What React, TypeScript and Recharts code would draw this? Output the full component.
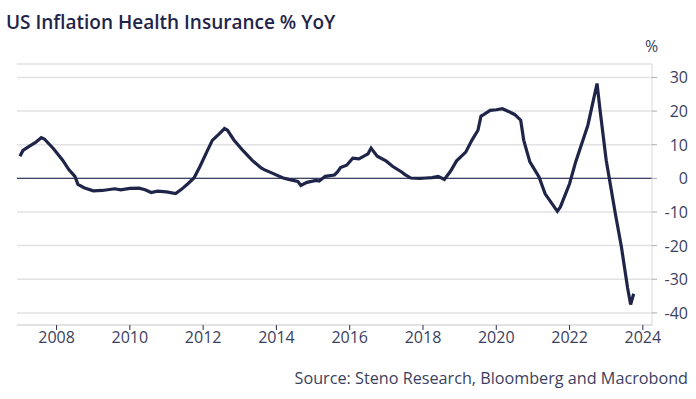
import React from "react";
import {
  LineChart,
  Line,
  XAxis,
  YAxis,
  CartesianGrid,
  ReferenceLine,
} from "recharts";

// Monthly readings, health insurance CPI % YoY
const months = [
  "2007-01", "2007-02", "2007-04", "2007-06", "2007-08", "2007-09", "2007-12",
  "2008-03", "2008-05", "2008-07", "2008-08", "2008-10",
  "2009-01", "2009-04", "2009-08", "2009-10",
  "2010-01", "2010-04", "2010-06", "2010-08", "2010-10",
  "2011-01", "2011-04", "2011-06", "2011-08", "2011-10", "2011-12",
  "2012-02", "2012-04", "2012-06", "2012-08", "2012-09", "2012-11",
  "2013-02", "2013-05", "2013-08", "2013-09", "2013-12",
  "2014-03", "2014-05", "2014-08", "2014-09", "2014-11",
  "2015-02", "2015-03", "2015-05", "2015-08", "2015-09", "2015-10", "2015-12",
  "2016-02", "2016-04", "2016-07", "2016-08", "2016-10",
  "2017-01", "2017-03", "2017-06", "2017-07", "2017-09", "2017-12",
  "2018-02", "2018-04", "2018-06", "2018-08", "2018-10", "2018-12",
  "2019-03", "2019-05", "2019-07", "2019-08", "2019-09", "2019-11",
  "2020-01", "2020-03", "2020-05", "2020-07", "2020-09", "2020-10", "2020-12",
  "2021-03", "2021-05", "2021-09", "2021-10",
  "2022-01", "2022-03", "2022-07", "2022-10", "2022-11",
  "2023-01", "2023-04", "2023-06", "2023-07", "2023-08", "2023-09", "2023-10",
];

const values = [
  6.6, 8.3, 9.5, 10.6, 12.1, 11.7, 8.8,
  5.4, 2.6, 0.6, -1.8, -2.8,
  -3.7, -3.6, -3.1, -3.4,
  -3.0, -2.9, -3.4, -4.2, -3.8,
  -4.0, -4.5, -3.2, -1.6, 0.1, 3.6,
  7.5, 11.3, 13.0, 14.8, 14.3, 11.5,
  8.3, 5.4, 3.1, 2.6, 1.4,
  0.2, -0.3, -0.9, -2.1, -1.2,
  -0.6, -0.8, 0.6, 1.0, 1.9, 3.2, 3.9,
  6.0, 5.8, 7.3, 9.0, 6.6,
  5.1, 3.6, 1.9, 1.2, 0.1, 0.0,
  0.1, 0.2, 0.6, -0.3, 2.1, 5.2,
  7.8, 11.3, 14.3, 18.5, 19.0, 20.2,
  20.4, 20.7, 19.9, 19.0, 17.3, 11.3, 4.9,
  0.4, -4.6, -9.8, -8.5,
  -1.6, 4.9, 15.8, 28.2, 20.2,
  5.4, -10.5, -20.5, -26.5, -32.5, -37.5, -34.3,
];

const yearTicks = [2008, 2010, 2012, 2014, 2016, 2018, 2020, 2022, 2024];
const valueTicks = [-40, -30, -20, -10, 0, 10, 20, 30];

const data = months.map((m, i) => {
  const [y, mo] = m.split("-").map(Number);
  return { t: y + (mo - 1) / 12, v: values[i] };
});

const NAVY = "#1f2548";
const TEXT = "#3b3f5e";
const FONT = "'Open Sans', sans-serif";

function YTick(props: any) {
  const { x, y, payload } = props;
  return (
    <text x={x + 29} y={y} dy={6} textAnchor="end" fill={TEXT} fontSize={16} fontFamily={FONT}>
      {payload.value}
    </text>
  );
}

export default function App() {
  return (
    <div style={{ position: "absolute", left: 0, top: 0, width: 696, height: 399, background: "#fff", fontFamily: FONT }}>
      <div style={{ position: "absolute", left: 6, top: 9, fontSize: 19, fontWeight: 600, color: NAVY, whiteSpace: "nowrap" }}>
        US Inflation Health Insurance % YoY
      </div>
      <div style={{ position: "absolute", left: 645, top: 35, fontSize: 16, color: TEXT }}>%</div>
      <div style={{ position: "absolute", right: 8, top: 367, fontSize: 16.2, color: TEXT, whiteSpace: "nowrap" }}>
        Source: Steno Research, Bloomberg and Macrobond
      </div>
      <LineChart width={696} height={399} data={data} margin={{ top: 64, right: 8, left: 17, bottom: 38 }}>
        <CartesianGrid vertical={false} stroke="#e2e2e2" strokeWidth={1.5} />
        <XAxis
          dataKey="t"
          type="number"
          domain={[2006.92, 2024.25]}
          ticks={yearTicks}
          allowDataOverflow
          height={36}
          stroke="#dcdcdc"
          tickLine={{ stroke: "#2a2f4a" }}
          tickSize={5}
          tick={{ fill: TEXT, fontSize: 16, fontFamily: FONT }}
        />
        <YAxis
          orientation="right"
          type="number"
          domain={[-43.6, 34]}
          ticks={valueTicks}
          allowDataOverflow
          width={36}
          stroke="#d8d8d8"
          tickLine={{ stroke: "#a9abb8" }}
          tickSize={5}
          tick={<YTick />}
        />
        <ReferenceLine y={0} stroke="#3b4262" strokeWidth={1.2} />
        <Line
          type="linear"
          dataKey="v"
          stroke={NAVY}
          strokeWidth={3.2}
          dot={false}
          isAnimationActive={false}
        />
      </LineChart>
    </div>
  );
}
